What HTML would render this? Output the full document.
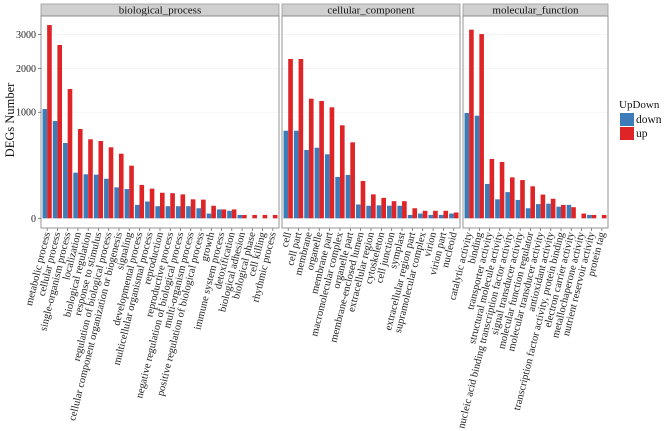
<!DOCTYPE html>
<html><head><meta charset="utf-8"><style>
html,body{margin:0;padding:0;background:#fff;}
svg{display:block;font-family:"Liberation Serif",serif;}
</style></head><body>
<svg id="chart" width="669" height="431" viewBox="0 0 669 431" xmlns="http://www.w3.org/2000/svg"></svg>
<script>
const bpCategories = ["metabolic process","cellular process","single-organism process","localization","biological regulation","response to stimulus","regulation of biological process","cellular component organization or biogenesis","signaling","developmental process","multicellular organismal process","reproduction","reproductive process","negative regulation of biological process","multi-organism process","positive regulation of biological process","growth","immune system process","detoxification","biological adhesion","biological phase","cell killing","rhythmic process"];
const bpDown = [1062,841,504,185,172,169,139,85,76,16,25,13,13,13,13,9,2,7,5,1,0,0,0];
const bpUp = [3320,2670,1486,709,555,531,448,371,246,99,78,58,56,51,32,31,14,7,7,1,1,1,1];
const ccCategories = ["cell","cell part","membrane","organelle","membrane part","macromolecular complex","organelle part","membrane-enclosed lumen","extracellular region","cytoskeleton","cell junction","symplast","extracellular region part","supramolecular complex","virion","virion part","nucleoid"];
const ccDown = [682,682,415,443,364,152,167,17,14,15,14,14,1,2,1,1,2];
const ccUp = [2256,2256,1272,1223,1095,769,513,124,51,37,26,26,9,5,5,5,3];
const mfCategories = ["catalytic activity","binding","transporter activity","structural molecule activity","nucleic acid binding transcription factor activity","signal transducer activity","molecular function regulator","molecular transducer activity","antioxidant activity","transcription factor activity, protein binding","electron carrier activity","metallochaperone activity","nutrient reservoir activity","protein tag"];
const mfDown = [986,936,105,32,61,30,9,18,19,12,16,0,1,0];
const mfUp = [3162,3018,313,282,149,130,91,50,34,16,11,2,1,1];
const yTicks = [0,1000,2000,3000];
const panelTitles = ["biological_process","cellular_component","molecular_function"];

const NS="http://www.w3.org/2000/svg";
const svg=document.getElementById('chart');
function mk(tag,attrs,parent){const e=document.createElementNS(NS,tag);for(const k in attrs)e.setAttribute(k,attrs[k]);(parent||svg).appendChild(e);return e;}
const y0=218.3, kY=3.354;
function yScale(v){return y0-Math.sqrt(v)*kY;}
const panelTop=16, panelBot=228, stripTop=4;
const panels=[
 {x0:41,x1:279,cats:bpCategories,down:bpDown,up:bpUp},
 {x0:282,x1:460,cats:ccCategories,down:ccDown,up:ccUp},
 {x0:463,x1:608,cats:mfCategories,down:mfDown,up:mfUp}
];
const BLUE="#3b7cb9", RED="#df2428";
panels.forEach((p,pi)=>{
  const g=mk('g',{});
  
  
  const strip=mk('rect',{x:p.x0,y:stripTop,width:p.x1-p.x0,height:panelTop-stripTop,fill:'#d0d0d0',stroke:'#9a9a9a','stroke-width':0.8},g);
  
  
  const st=mk('text',{x:(p.x0+p.x1)/2,y:panelTop-2.5,'text-anchor':'middle','font-size':11,fill:'#111'},g);
  st.textContent=panelTitles[pi];
  
  
  yTicks.forEach(t=>{mk('line',{x1:p.x0,x2:p.x1,y1:yScale(t),y2:yScale(t),stroke:'#f2f2f2','stroke-width':0.8},g);});
  const n=p.cats.length, step=(p.x1-p.x0)/(n+0.2);
  const bw=step*0.9/2;
  p.cats.forEach((c,i)=>{
    const cx=p.x0+step*(i+0.6);
    if(p.down[i]>0){
      const b=mk('rect',{x:cx-bw,y:yScale(p.down[i]),width:bw,height:y0-yScale(p.down[i]),fill:BLUE},g);
      
      
    }
    if(p.up[i]>0){
      const b=mk('rect',{x:cx,y:yScale(p.up[i]),width:bw,height:y0-yScale(p.up[i]),fill:RED},g);
      
      
    }
    mk('line',{x1:cx,x2:cx,y1:panelBot,y2:panelBot+3,stroke:'#555','stroke-width':0.7},g);
    const tl=mk('text',{x:0,y:0,'text-anchor':'end','font-size':10.5,fill:'#222',transform:`translate(${cx+3},${panelBot+5}) rotate(-76)`},g);
    tl.textContent=c;
    
    
  });
  const fr=mk('rect',{x:p.x0,y:panelTop,width:p.x1-p.x0,height:panelBot-panelTop,fill:'none',stroke:'#8a8a8a','stroke-width':0.9},g);
  
  
});
yTicks.forEach(t=>{
  mk('line',{x1:38,x2:41,y1:yScale(t),y2:yScale(t),stroke:'#555','stroke-width':0.7});
  const tx=mk('text',{x:36,y:yScale(t)+3.5,'text-anchor':'end','font-size':10,fill:'#222'});
  tx.textContent=t;
  
  
});
const yt=mk('text',{x:0,y:0,'text-anchor':'middle','font-size':12.5,fill:'#111',transform:'translate(14,120) rotate(-90)'});
yt.textContent='DEGs Number';


const lg=mk('g',{});


const lt=mk('text',{x:619,y:108,'font-size':11,fill:'#111'},lg);
lt.textContent='UpDown';


[['down',BLUE,113],['up',RED,127]].forEach(([lab,col,yy])=>{
  const r=mk('rect',{x:620,y:yy,width:14,height:13,fill:col},lg);
  
  
  const t=mk('text',{x:636,y:yy+10,'font-size':11.5,fill:'#111'},lg);
  t.textContent=lab;
  
  
});
</script>
</body></html>
